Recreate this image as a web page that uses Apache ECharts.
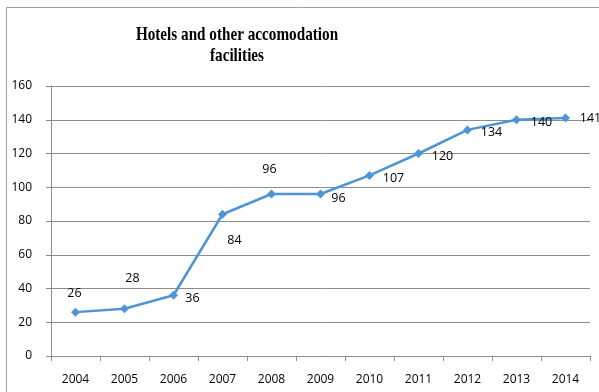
<!DOCTYPE html>
<html>
<head>
<meta charset="utf-8">
<script src="https://cdn.jsdelivr.net/npm/echarts@6/dist/echarts.min.js"></script>
<style>
  html, body { margin: 0; padding: 0; background: #ffffff; }
  #chart { width: 599px; height: 392px; }
</style>
</head>
<body>
<div id="chart"></div>
<script>
// Hotels and other accommodation facilities, count per year
const years = ['2004', '2005', '2006', '2007', '2008', '2009', '2010', '2011', '2012', '2013', '2014'];
const facilities = [26, 28, 36, 84, 96, 96, 107, 120, 134, 140, 141];
const yTicks = { min: 0, max: 160, step: 20 };

// Hand-placed data label offsets (pixels from each marker)
const labelOffsets = [
  [-1, -19], [8, -30], [19, 3], [12, 26], [-2, -25], [18, 4],
  [24, 3], [24, 3], [24, 3], [25, 3], [25, 0]
];

const gridColor = '#8c8c8c';
const lineColor = '#4f94d4';
const textFont = 'Open Sans';

const chart = echarts.init(document.getElementById('chart'), null, { renderer: 'canvas' });

const seriesData = facilities.map((v, i) => ({
  value: v,
  label: {
    show: true,
    position: 'inside',
    offset: labelOffsets[i],
    formatter: String(v),
    color: '#000000',
    fontFamily: textFont,
    fontSize: 12.5
  }
}));

chart.setOption({
  animation: false,
  backgroundColor: '#ffffff',
  graphic: [
    {
      type: 'rect',
      silent: true,
      shape: { x: 6.5, y: 7.5, width: 620, height: 420 },
      style: { fill: 'none', stroke: '#a0a0a0', lineWidth: 1 }
    },
    {
      type: 'text',
      x: 237,
      y: 25,
      scaleX: 0.8,
      style: {
        text: 'Hotels and other accomodation\nfacilities',
        textAlign: 'center',
        textVerticalAlign: 'top',
        font: 'bold 19px "Liberation Serif"',
        lineHeight: 21,
        fill: '#000000'
      }
    }
  ],
  grid: { left: 51, right: 9, top: 86, bottom: 36, containLabel: false },
  xAxis: {
    type: 'category',
    data: years,
    boundaryGap: true,
    axisLine: { show: true, lineStyle: { color: gridColor, width: 1 } },
    axisTick: { show: true, length: 5, alignWithLabel: false, lineStyle: { color: gridColor } },
    axisLabel: { margin: 18, color: '#000000', fontFamily: textFont, fontSize: 12 },
    splitLine: { show: false }
  },
  yAxis: {
    type: 'value',
    min: yTicks.min,
    max: yTicks.max,
    interval: yTicks.step,
    axisLine: { show: true, lineStyle: { color: gridColor, width: 1 } },
    axisTick: { show: true, length: 5, lineStyle: { color: gridColor } },
    axisLabel: { margin: 19, color: '#000000', fontFamily: textFont, fontSize: 12 },
    splitLine: { show: true, lineStyle: { color: gridColor, width: 1 } }
  },
  series: [{
    type: 'line',
    data: seriesData,
    symbol: 'diamond',
    symbolSize: 9,
    showAllSymbol: true,
    lineStyle: { color: lineColor, width: 2.5 },
    itemStyle: { color: lineColor }
  }]
});
</script>
</body>
</html>
